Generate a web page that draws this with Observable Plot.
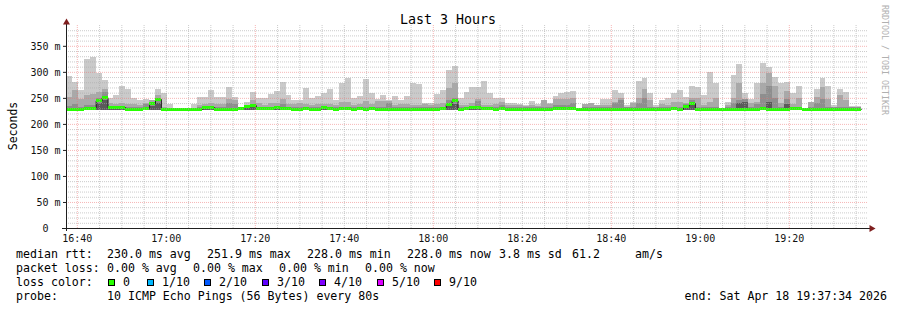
<!DOCTYPE html>
<html><head><meta charset="utf-8">
<script src="https://cdn.jsdelivr.net/npm/d3@7"></script>
<script src="https://cdn.jsdelivr.net/npm/@observablehq/plot@0.6"></script>
<style>
body{margin:0;background:#fff;}
#wrap{position:relative;width:897px;height:310px;overflow:hidden;background:#fff;font-family:"DejaVu Sans Mono",monospace;}
#wrap svg{position:absolute;left:0;top:0;}
</style></head><body><div id="wrap"></div>
<script>
// ---------- data ----------
const startTime = "2026-04-18T16:37:34Z";
const endTime = "2026-04-18T19:37:34Z";
const stepSeconds = 80;
const titleText = "Last 3 Hours";
const yLabel = "Seconds";
const xTickLabels = ["16:40","17:00","17:20","17:40","18:00","18:20","18:40","19:00","19:20"];
const yTicks = [0,50,100,150,200,250,300,350];
const pingFloor = 227;
// max ping per 80s step (ms)
const pingMax = [292,281,265,325,329,298,285,250,256,273,
 267,250,246,248,240,267,259,238,231,231,
 231,238,252,252,265,252,252,271,252,233,
 243,262,250,250,258,264,281,256,246,246,
 269,249,254,260,268,246,278,289,249,254,
 286,259,247,256,246,254,246,254,279,276,
 240,241,257,265,304,312,249,262,270,270,
 282,260,249,249,241,241,238,236,244,238,
 246,240,253,260,262,263,230,238,241,236,
 247,247,265,260,236,243,282,289,260,236,
 246,250,260,265,251,272,270,256,299,278,
 230,242,294,315,259,247,278,317,310,291,
 279,281,259,272,229,241,268,288,272,236,
 267,261,235,235];
// second smoke band (ms)
const pingQ2 = [252,265,248,255,258,262,268,240,238,240,
 238,238,236,240,245,255,233,230,229,229,
 229,231,236,238,240,238,238,248,246,231,
 236,245,240,236,240,240,248,238,238,240,
 238,236,238,238,238,236,243,243,236,238,
 244,238,244,244,244,236,238,238,236,236,
 238,236,238,240,269,278,236,236,240,248,
 236,236,238,243,236,236,236,234,236,234,
 246,238,248,248,248,250,229,238,240,236,
 236,236,243,250,233,240,250,267,246,233,
 238,236,243,243,240,250,250,236,243,250,
 229,236,250,278,248,240,243,278,298,272,
 240,264,238,250,228,243,251,270,248,232,
 255,245,232,232];
// third smoke band (ms)
const pingQ3 = [235,238,232,236,236,250,262,232,232,232,
 232,232,232,238,238,245,230,230,229,229,
 229,230,232,232,234,232,232,240,238,230,
 236,236,232,232,232,232,238,232,232,232,
 232,232,232,232,232,232,232,232,232,232,
 232,232,232,232,241,232,232,232,232,232,
 232,232,232,232,245,250,232,232,232,244,
 232,232,232,236,232,232,232,232,232,232,
 232,232,236,236,236,240,229,232,232,232,
 232,232,240,245,232,232,240,250,232,232,
 232,232,232,232,238,245,232,232,232,232,
 229,232,240,245,248,232,238,257,273,250,
 232,248,232,232,228,232,240,248,232,232,
 232,232,232,232];
// darkest smoke band (ms)
const pingQ4 = [228,228,229,230,230,240,246,232,232,232,
 229,229,229,231,234,240,229,229,229,229,
 229,229,229,232,232,229,229,229,229,231,
 234,236,231,230,231,233,231,230,229,229,
 230,229,229,232,230,229,230,231,229,230,
 229,231,229,229,229,229,229,229,229,229,
 229,229,229,231,234,238,229,230,232,232,
 231,230,229,230,229,229,229,229,229,229,
 229,229,230,230,230,230,229,229,229,229,
 229,229,229,229,229,229,229,229,229,229,
 229,229,230,229,236,238,229,229,229,229,
 229,229,229,240,242,229,229,231,242,229,
 229,238,230,230,229,229,229,229,229,229,
 229,229,229,229];
// median rtt (ms)
const medianRtt = [228,228,229,230,230,245,251,232,232,232,
 229,229,229,231,240,248,229,229,229,229,
 229,229,229,232,232,229,229,229,229,231,
 234,236,231,230,231,233,231,230,229,229,
 230,229,229,232,230,229,230,231,229,230,
 229,231,229,229,229,229,229,229,229,229,
 229,229,229,231,238,245,229,230,232,232,
 231,230,229,230,229,229,229,229,229,229,
 229,229,230,230,230,230,229,229,229,229,
 229,229,229,229,229,229,229,229,229,229,
 229,229,230,229,235,240,229,229,229,229,
 229,229,229,229,229,229,229,231,229,229,
 229,229,230,230,229,229,229,229,229,229,
 229,229,229,229];

const rttLegend = ["230.0 ms avg","251.9 ms max","228.0 ms min","228.0 ms now","3.8 ms sd","61.2","am/s"];
const lossLegend = ["0.00 % avg","0.00 % max","0.00 % min","0.00 % now"];
const lossColorLabels = ["0","1/10","2/10","3/10","4/10","5/10","9/10"];
const lossColors = ["#26ff00","#00b8ff","#0059ff","#5e00ff","#7e00ff","#dd00ff","#ff0000"];
const probeText = "10 ICMP Echo Pings (56 Bytes) every 80s";
const endText = "end: Sat Apr 18 19:37:34 2026";
const watermark = "RRDTOOL / TOBI OETIKER";

// ---------- build ----------
const t0 = new Date(startTime);
const t1 = new Date(endTime);
const rows = medianRtt.map((m, i) => ({
  a: new Date(+t0 + i * stepSeconds * 1000),
  b: new Date(+t0 + (i + 1) * stepSeconds * 1000),
  max: pingMax[i], q2: pingQ2[i], q3: pingQ3[i], q4: pingQ4[i], med: m
}));
const lineRows = rows.map(r => ({t: r.a, med: r.med})).concat([{t: rows[rows.length-1].b, med: rows[rows.length-1].med}]);

const tickDates = xTickLabels.map(s => new Date(`2026-04-18T${s}:00Z`));
const minorX = d3.utcMinute.every(5).range(t0, t1);
const isMajorX = d => ((d.getUTCHours()*60 + d.getUTCMinutes() - 40) % 40) === 0;
const majorX = minorX.filter(isMajorX);
const minorX2 = minorX.filter(d => !isMajorX(d));
const yAll = d3.range(10, 390, 10);
const majorY = yAll.filter(v => v % 50 === 0);
const minorY = yAll.filter(v => v % 50 !== 0);

const gridMinor = {stroke: "#a8a8a8", strokeOpacity: 0.6, strokeDasharray: "1,1"};
const gridMajor = {stroke: "#ee7070", strokeOpacity: 0.5, strokeDasharray: "1,1"};
const crisp = {shapeRendering: "crispEdges", inset: 0};

const plot = Plot.plot({
  width: 897, height: 245,
  marginLeft: 66, marginRight: 30, marginTop: 25, marginBottom: 17,
  style: {fontFamily: "'DejaVu Sans Mono', monospace", fontSize: "10px", color: "#111", background: "transparent"},
  x: {type: "utc", domain: [t0, t1]},
  y: {domain: [0, 390]},
  marks: [
    Plot.rect(rows, {x1: "a", x2: "b", y1: pingFloor, y2: "max", fill: "#cacaca", ...crisp}),
    Plot.rect(rows, {x1: "a", x2: "b", y1: pingFloor, y2: "q2", fill: "#a9a9a9", ...crisp}),
    Plot.rect(rows, {x1: "a", x2: "b", y1: pingFloor, y2: "q3", fill: "#8e8e8e", ...crisp}),
    Plot.rect(rows, {x1: "a", x2: "b", y1: pingFloor, y2: "q4", fill: "#5a5a5a", ...crisp}),
    Plot.line(lineRows, {x: "t", y: "med", curve: "step-after", stroke: "#202020", strokeWidth: 1}),
    Plot.ruleY(rows, {x1: "a", x2: "b", y: "med", stroke: "#26ff00", strokeWidth: 3, shapeRendering: "crispEdges"}),
    Plot.ruleX(minorX2, gridMinor),
    Plot.ruleX(majorX, gridMajor),
    Plot.ruleY(minorY, gridMinor),
    Plot.ruleY(majorY, gridMajor),
    Plot.ruleX([t0], {stroke: "#1f1f1f", insetTop: -3, insetBottom: -3}),
    Plot.ruleY([0], {stroke: "#1f1f1f", insetLeft: -4, insetRight: -4}),
    Plot.dot([t0], {x: d => d, frameAnchor: "top", symbol: "triangle", r: 2.6, fill: "#7f1f1f", stroke: "none", dy: -3}),
    Plot.dot([0], {y: d => d, frameAnchor: "right", symbol: "triangle", rotate: 90, r: 2.6, fill: "#7f1f1f", stroke: "none", dx: 4}),
    Plot.axisX({ticks: tickDates, tickFormat: d3.utcFormat("%H:%M"), tickSize: 0, tickPadding: 6, fill: "#111"}),
    Plot.axisY({ticks: yTicks, tickFormat: d => d === 0 ? "0\u00a0\u00a0" : `${d} m`, tickSize: 3, tickPadding: 3, fill: "#111", stroke: "#1f1f1f"})
  ]
});
const wrap = document.getElementById("wrap");
wrap.appendChild(plot);

// ---------- overlay text (title, labels, legend) ----------
const ov = d3.select(wrap).append("svg").attr("width", 897).attr("height", 310)
  .style("font-family", "'DejaVu Sans Mono', monospace").style("pointer-events", "none");
ov.append("text").attr("x", 448).attr("y", 24).attr("text-anchor", "middle").style("font-size", "13.3px").text(titleText);
ov.append("text").attr("transform", "translate(16.5,126) rotate(-90)").attr("text-anchor", "middle").style("font-size", "11.5px").text(yLabel);
ov.append("text").attr("transform", "translate(882,5) rotate(90)").style("font-size", "8.3px").attr("fill", "#b0b0b0").text(watermark);

const fs = "11.6px";
const line = (x, y, s) => ov.append("text").attr("x", x).attr("y", y).style("font-size", fs).text(s);
const rttX = [107, 207, 307, 407, 499, 572, 635];
const lossX = [107, 193, 279, 365];
const boxX = [108, 147, 204, 262, 319, 377, 434];
line(16, 258, "median rtt:");
rttLegend.forEach((s, i) => line(rttX[i], 258, s));
line(16, 272, "packet loss:");
lossLegend.forEach((s, i) => line(lossX[i], 272, s));
line(16, 286, "loss color:");
lossColors.forEach((c, i) => {
  ov.append("rect").attr("x", boxX[i] + 0.5).attr("y", 279.5).attr("width", 6).attr("height", 6)
    .attr("fill", c).attr("stroke", "#000").attr("stroke-width", 1);
  line(boxX[i] + 15, 286, lossColorLabels[i]);
});
line(16, 300, "probe:");
line(107, 300, probeText);
ov.append("text").attr("x", 887).attr("y", 300).attr("text-anchor", "end").style("font-size", fs).text(endText);
</script></body></html>
